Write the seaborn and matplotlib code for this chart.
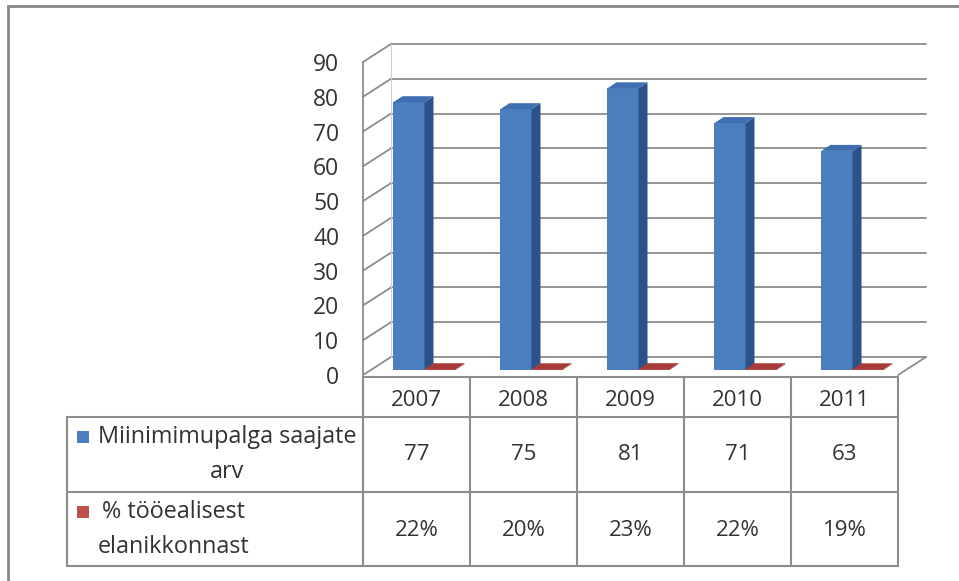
import numpy as np
import pandas as pd
import matplotlib
matplotlib.use("Agg")
import matplotlib.pyplot as plt
from matplotlib.patches import Polygon, Rectangle
import seaborn as sns

# daten
aastad = ["2007", "2008", "2009", "2010", "2011"]
saajate_arv = [77, 75, 81, 71, 63]
protsent = [22, 20, 23, 22, 19]
seeria = ["Miinimimupalga saajate\narv", "% tööealisest\nelanikkonnast"]
y_ticks = list(range(0, 100, 10))

sinine = "#4A7EBF"
sinine_kylg = "#2D5287"
sinine_pealt = "#3F6FB0"
punane = "#C0504D"
punane_pealt = "#A83A38"
joon = "#8C8C8C"
tekst = "#333333"

df = pd.DataFrame({
    "aasta": aastad * 2,
    "seeria": [seeria[0]] * 5 + [seeria[1]] * 5,
    "vaartus": saajate_arv + [p / 100 for p in protsent],
})

sns.set_style("white")
plt.rcParams["font.family"] = ["Open Sans", "DejaVu Sans"]
fs = 16

W, H = 959, 581
fig = plt.figure(figsize=(W / 100, H / 100), dpi=100)

# raam ümber
fig.patches.append(Rectangle((8 / W, -0.1), 1.2, 1.1 - 6 / H, transform=fig.transFigure,
                             fill=False, edgecolor="#868686", lw=2))

# graafiku esipind (pikslites)
x0, x1 = 363, 898
y0, y1 = 375, 62
ax = fig.add_axes([x0 / W, 1 - y0 / H, (x1 - x0) / W, (y0 - y1) / H])
ax.set_xlim(-0.5, 4.5)
ax.set_ylim(0, 90)
ax.patch.set_alpha(0)

px_x = 5 / (x1 - x0)      # andmeühik ühe piksli kohta
px_y = 90 / (y0 - y1)

# sügavus
dx, dy = 28 * px_x, 18 * px_y

# seinad ja ruudujooned
for v in y_ticks:
    ax.plot([-0.5 + dx, 4.5 + dx], [v + dy, v + dy], color=joon, lw=1.3, clip_on=False, zorder=1)
    ax.plot([-0.5, -0.5 + dx], [v, v + dy], color=joon, lw=1.3, clip_on=False, zorder=1)
ax.plot([-0.5, -0.5], [0, 90], color=joon, lw=1.3, clip_on=False, zorder=1)
ax.plot([-0.5 + dx, -0.5 + dx], [dy, 90 + dy], color="#D0D0D0", lw=0.8, clip_on=False, zorder=1)
ax.plot([4.5, 4.5 + dx], [0, dy], color=joon, lw=1.3, clip_on=False, zorder=1)

sns.barplot(data=df, x="aasta", y="vaartus", hue="seeria", order=aastad,
            hue_order=seeria, palette=[sinine, punane], width=0.58,
            saturation=1, legend=False, ax=ax, zorder=3)

# 3d tulbad
ox, oy = 8 * px_x, 5 * px_y
bdx, bdy = 9 * px_x, 6 * px_y
for i, p in enumerate(ax.patches):
    x, w, h = p.get_x(), p.get_width(), p.get_height()
    p.set_x(x + ox)
    p.set_y(oy)
    p.set_edgecolor("none")
    p.set_clip_on(False)
    x = x + ox
    if i < 5:
        kylg, pealt = sinine_kylg, sinine_pealt
    else:
        kylg, pealt = "#8E2F2D", punane_pealt
    ax.add_patch(Polygon([(x + w, oy), (x + w + bdx, oy + bdy), (x + w + bdx, oy + h + bdy),
                          (x + w, oy + h)], closed=True, facecolor=kylg, edgecolor="none",
                         clip_on=False, zorder=3))
    ax.add_patch(Polygon([(x, oy + h), (x + bdx, oy + h + bdy), (x + w + bdx, oy + h + bdy),
                          (x + w, oy + h)], closed=True, facecolor=pealt, edgecolor="none",
                         clip_on=False, zorder=3))

ax.set_yticks(y_ticks)
ax.set_xticks([])
ax.set_xlabel("")
ax.set_ylabel("")
ax.tick_params(axis="y", length=0, pad=17, labelsize=16.5, labelcolor=tekst)
sns.despine(ax=ax, left=True, bottom=True)

# andmetabel
t_left, t_top, t_bottom = 67, 377, 566
ax_t = fig.add_axes([t_left / W, 1 - t_bottom / H, (x1 - t_left) / W, (t_bottom - t_top) / H])
xl = -0.5 - (x0 - t_left) * px_x
ax_t.set_xlim(xl, 4.5)
ax_t.set_ylim(t_bottom - t_top, 0)
ax_t.axis("off")
read = [0, 40, 115, 189]

ax_t.plot([-0.5, 4.5], [0, 0], color=joon, lw=1.5, clip_on=False)
for r in read[1:]:
    ax_t.plot([xl, 4.5], [r, r], color=joon, lw=1.5, clip_on=False)
ax_t.plot([xl, xl], [read[1], read[3]], color=joon, lw=1.5, clip_on=False)
for k in range(6):
    ax_t.plot([-0.5 + k, -0.5 + k], [0, read[3]], color=joon, lw=1.5, clip_on=False)

for i, a in enumerate(aastad):
    ax_t.text(i, (read[0] + read[1]) / 2 + 3, a, ha="center", va="center", fontsize=fs, color=tekst)
    ax_t.text(i, (read[1] + read[2]) / 2, str(saajate_arv[i]), ha="center", va="center",
              fontsize=fs, color=tekst)
    ax_t.text(i, (read[2] + read[3]) / 2 + 2, f"{protsent[i]}%", ha="center", va="center",
              fontsize=fs, color=tekst)

for j, (nimi, c) in enumerate(zip(seeria, [sinine, punane])):
    yk = read[j + 1] + 20
    ax_t.add_patch(Rectangle((xl + 10 * px_x, yk - 6), 12 * px_x, 12, facecolor=c,
                             edgecolor="none", clip_on=False))
    ax_t.text(xl + 31 * px_x, yk - 12, nimi, ha="left", va="top", fontsize=16.8, color=tekst,
              multialignment="center", linespacing=1.6)

fig.savefig("out.png", dpi=100)
